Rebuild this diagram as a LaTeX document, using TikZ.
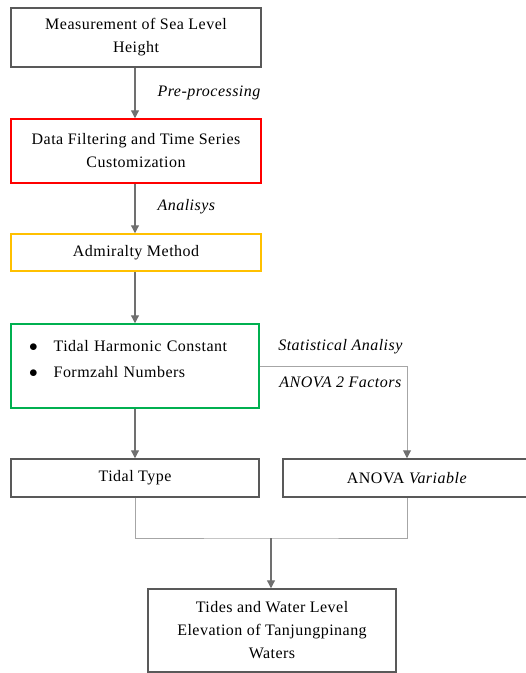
\documentclass[tikz,border=0pt]{standalone}
\usepackage{fontspec}
\setmainfont{Liberation Serif}[LetterSpace=3]
\usepackage{xcolor}
\usetikzlibrary{positioning, arrows.meta}
\definecolor{boxgray}{HTML}{595959}
\definecolor{linegray}{HTML}{707070}
\definecolor{thingray}{HTML}{A6A6A6}
\definecolor{stepred}{HTML}{FF0000}
\definecolor{stepyellow}{HTML}{FFC000}
\definecolor{stepgreen}{HTML}{00B050}

\tikzset{
  stage/.style={draw=boxgray, line width=1.5pt, minimum width=250pt,
                align=center, inner sep=0pt, font=\fontsize{16}{23}\selectfont},
  tip/.style={-{Triangle[width=8pt,length=8pt,color=linegray]}},
  flow/.style={draw=linegray, line width=1.2pt, tip},
  link/.style={draw=thingray, line width=1pt},
  lbl/.style={font=\fontsize{16}{18}\selectfont\itshape, inner sep=2pt}
}

\begin{document}
\begin{tikzpicture}[x=1pt, y=-1pt]
    \useasboundingbox (0,0) rectangle (526,673);

    % main chain
    \node[stage, minimum height=59pt] (measure) at (136,37.5)
      {Measurement of Sea Level\\Height};
    \node[stage, draw=stepred, minimum height=64pt] (filter) at (136,151)
      {Data Filtering and Time Series\\Customization};
    \node[stage, draw=stepyellow, minimum height=37pt] (admiralty) at (136,252.5)
      {Admiralty Method};
    \node[stage, draw=stepgreen, minimum width=248pt, minimum height=84pt,
          align=left, text width=230pt] (harmonic) at (135,366)
      {\hspace*{9pt}$\bullet$\hspace{16pt}Tidal Harmonic Constant\\[3pt]
       \hspace*{9pt}$\bullet$\hspace{16pt}Formzahl Numbers\\[-16pt]\strut};

    % results
    \node[stage, minimum width=248pt, minimum height=38pt] (tidaltype) at (135,478)
      {Tidal Type};
    \node[stage, minimum width=248pt, minimum height=38pt] (anova) at (407,478)
      {ANOVA \textit{Variable}};
    \node[stage, minimum width=248pt, minimum height=83pt] (elevation) at (272,630.5)
      {Tides and Water Level\\Elevation of Tanjungpinang\\Waters};

    % connectors
    \draw[flow] (measure.south -| harmonic) -- node[right=20pt, lbl] {Pre-processing} (filter.north -| harmonic);
    \draw[flow] (filter.south -| harmonic) -- node[right=20pt, lbl, yshift=2pt] {Analisys} (admiralty.north -| harmonic);
    \draw[flow] (admiralty.south -| harmonic) -- (harmonic);
    \draw[flow] (harmonic) -- (tidaltype);
    \draw[link, tip] (harmonic.east) -| (anova.north)
      node[pos=0.25, above=10pt, lbl, xshift=7pt] {Statistical Analisy}
      node[pos=0.25, below=8pt, lbl, xshift=7pt] {ANOVA 2 Factors};

    \coordinate (join) at (271,538);
    \draw[link] (tidaltype.south) |- (join) -| (anova.south);
    \draw[flow] (join) -- (join |- elevation.north);
\end{tikzpicture}
\end{document}
